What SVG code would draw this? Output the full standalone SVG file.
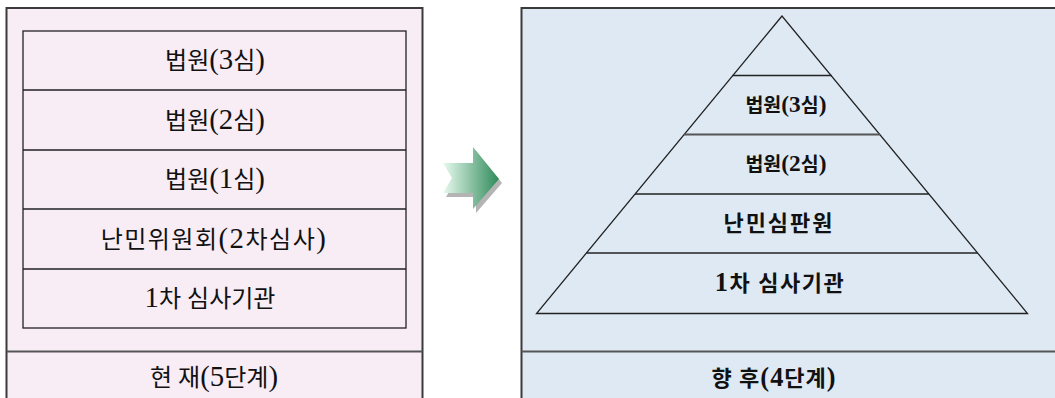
<svg xmlns="http://www.w3.org/2000/svg" width="1055" height="398" viewBox="0 0 1055 398">
<style>
.panel{stroke:#3a3a3a;stroke-width:2}
.line{stroke:#222;stroke-width:1.3;fill:none}
.sep{stroke:#555;stroke-width:2}
.t{font-family:"Liberation Serif","Noto Sans CJK KR",serif;font-size:24px;fill:#111;text-anchor:middle}
.b{font-family:"Liberation Serif","Noto Sans CJK KR",serif;font-size:22px;font-weight:bold;fill:#111;text-anchor:middle}
.s{font-size:19.5px}
.l{font-size:1.2em}
</style>
<defs>
<linearGradient id="g" x1="0" y1="0" x2="1" y2="0">
<stop offset="0" stop-color="#e8faee"/>
<stop offset="1" stop-color="#2f8a5a"/>
</linearGradient>
</defs>
<rect width="1055" height="398" fill="#fff"/>
<g id="current">
<rect x="6.5" y="8" width="416" height="400" fill="#f8ecf5"/>
<path class="panel" d="M6.5 398 V8 H422.5 V398" fill="none"/>
<rect x="23" y="31" width="383" height="297" fill="none" class="line"/>
<line class="line" x1="23" y1="90" x2="406" y2="90"/>
<line class="line" x1="23" y1="150" x2="406" y2="150"/>
<line class="line" x1="23" y1="209" x2="406" y2="209"/>
<line class="line" x1="23" y1="269" x2="406" y2="269"/>
<line class="sep" x1="6.5" y1="351.5" x2="422.5" y2="351.5"/>
<text class="t" x="215" y="69">법원<tspan class="l">(3</tspan>심<tspan class="l">)</tspan></text>
<text class="t" x="215" y="128.5">법원<tspan class="l">(2</tspan>심<tspan class="l">)</tspan></text>
<text class="t" x="215" y="188">법원<tspan class="l">(1</tspan>심<tspan class="l">)</tspan></text>
<text class="t" x="214" y="247.5" letter-spacing="1.5">난민위원회<tspan class="l">(2</tspan>차심사<tspan class="l">)</tspan></text>
<text class="t" x="210" y="307"><tspan class="l">1</tspan>차  심사기관</text>
<text class="t" x="214" y="386">현  재<tspan class="l">(5</tspan>단계<tspan class="l">)</tspan></text>
</g>
<g id="arrow">
<path d="M446 167 H476 V151 L502 183 L476 213 V197 H446 L455 182 Z" fill="#b4b4b4"/>
<path d="M443 163 H473 V147 L499 179 L473 209 V193 H443 L452 178 Z" fill="url(#g)"/>
</g>
<g id="future">
<rect x="521.5" y="8" width="540" height="400" fill="#dfe9f3"/>
<path class="panel" d="M521.5 398 V8 H1060" fill="none"/>
<path class="line" d="M782 16 L536.5 313.5 H1027.5 Z"/>
<line class="line" x1="732.5" y1="75.5" x2="831.5" y2="75.5"/>
<line class="sep" x1="684" y1="134.5" x2="880" y2="134.5"/>
<line class="line" x1="635" y1="194" x2="929" y2="194"/>
<line class="line" x1="586.5" y1="253" x2="977.5" y2="253"/>
<line class="sep" x1="521.5" y1="351.5" x2="1055" y2="351.5"/>
<text class="b s" x="786" y="112">법원<tspan class="l">(3</tspan>심<tspan class="l">)</tspan></text>
<text class="b s" x="786" y="171">법원<tspan class="l">(2</tspan>심<tspan class="l">)</tspan></text>
<text class="b" x="779" y="231" letter-spacing="2">난민심판원</text>
<text class="b" x="780" y="291" letter-spacing="1.5"><tspan class="l">1</tspan>차  심사기관</text>
<text class="b" x="774" y="386" letter-spacing="1">향  후<tspan class="l">(4</tspan>단계<tspan class="l">)</tspan></text>
</g>
</svg>
